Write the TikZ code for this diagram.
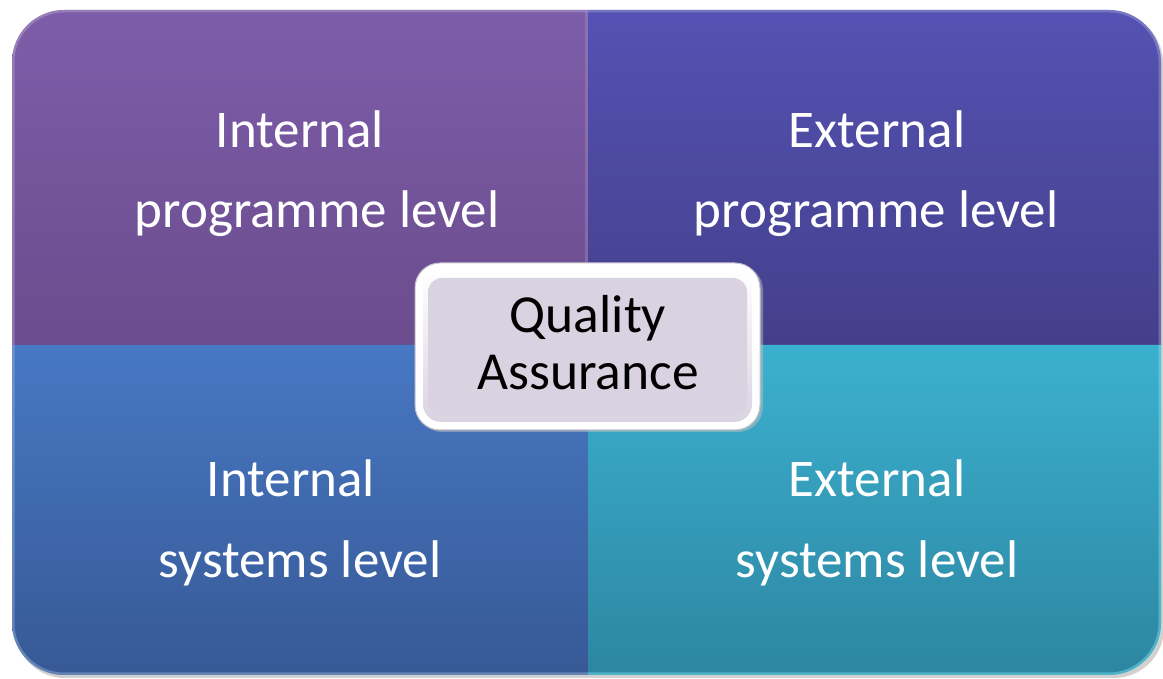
\documentclass[tikz,border=0pt]{standalone}
\usepackage{fontspec}
\setmainfont{Carlito}
\usetikzlibrary{shadings}
\definecolor{tlTop}{HTML}{7D5DA9}
\definecolor{tlBot}{HTML}{6B4C8D}
\definecolor{trTop}{HTML}{5452B3}
\definecolor{trBot}{HTML}{443F8B}
\definecolor{blTop}{HTML}{4778C3}
\definecolor{blBot}{HTML}{375996}
\definecolor{brTop}{HTML}{3BB1CF}
\definecolor{brBot}{HTML}{2D86A2}
\definecolor{qaFill}{HTML}{D9D3E1}
\definecolor{qaEdge}{HTML}{C4C0CC}
\tikzset{
  lbl/.style={anchor=base, text=white, font=\fontsize{53}{64}\selectfont, inner sep=0pt},
  qalbl/.style={anchor=base, text=black, font=\fontsize{53.5}{64}\selectfont, inner sep=0pt},
  rim/.style={line width=5pt, opacity=0.45},
}
\begin{document}
\begin{tikzpicture}[x=1pt,y=1pt]
\useasboundingbox (0,0) rectangle (1163,679);
\fill[white] (0,0) rectangle (1163,679);
% shadow
\fill[black!18] (15,331) -- (15,616) arc[start angle=180,end angle=90,radius=50] -- (1113,666) arc[start angle=90,end angle=0,radius=50] -- (1164,51) arc[start angle=0,end angle=-90,radius=50] -- (65,1) arc[start angle=270,end angle=180,radius=50] -- cycle;
% top-left
\shade[top color=tlTop,bottom color=tlBot] (12,334) -- (12,617) arc[start angle=180,end angle=90,radius=52] -- (588,669) -- (588,334) -- cycle;
\begin{scope}
\clip (12,334) -- (12,617) arc[start angle=180,end angle=90,radius=52] -- (588,669) -- (588,334) -- cycle;
\draw[rim, color=tlTop!55!white] (12,334) -- (12,617) arc[start angle=180,end angle=90,radius=52] -- (588,669);
\draw[line width=6pt, color=tlTop!70!white, opacity=0.4] (588,334) -- (588,669);
\end{scope}
% top-right
\shade[top color=trTop,bottom color=trBot] (588,669) -- (1109,669) arc[start angle=90,end angle=0,radius=52] -- (1161,334) -- (588,334) -- cycle;
\begin{scope}
\clip (588,669) -- (1109,669) arc[start angle=90,end angle=0,radius=52] -- (1161,334) -- (588,334) -- cycle;
\draw[rim, color=trTop!55!white] (588,669) -- (1109,669) arc[start angle=90,end angle=0,radius=52] -- (1161,334);
\end{scope}
% bottom-left
\shade[top color=blTop,bottom color=blBot] (12,334) -- (12,56) arc[start angle=180,end angle=270,radius=52] -- (588,4) -- (588,334) -- cycle;
\begin{scope}
\clip (12,334) -- (12,56) arc[start angle=180,end angle=270,radius=52] -- (588,4) -- (588,334) -- cycle;
\draw[rim, color=blTop!55!white] (12,334) -- (12,56) arc[start angle=180,end angle=270,radius=52] -- (588,4);
\end{scope}
% bottom-right
\shade[top color=brTop,bottom color=brBot] (588,334) -- (1161,334) -- (1161,56) arc[start angle=0,end angle=-90,radius=52] -- (588,4) -- cycle;
\begin{scope}
\clip (588,334) -- (1161,334) -- (1161,56) arc[start angle=0,end angle=-90,radius=52] -- (588,4) -- cycle;
\draw[rim, color=brTop!45!cyan!60!white] (1161,334) -- (1161,56) arc[start angle=0,end angle=-90,radius=52] -- (588,4);
\end{scope}
% labels
\node[lbl] (tl1) at (300,531) {Internal};
\node[lbl] (tl2) at (317,451) {programme level};
\node[lbl] (tr1) at (877,531) {External};
\node[lbl] (tr2) at (876,451) {programme level};
\node[lbl] (bl1) at (291,182) {Internal};
\node[lbl] (bl2) at (300,101) {systems level};
\node[lbl] (br1) at (877,182) {External};
\node[lbl] (br2) at (877,101) {systems level};
% center box
\fill[black!25, opacity=0.5, rounded corners=25pt] (417,247) rectangle (763,414);
\draw[qaEdge, fill=white, line width=1pt, rounded corners=25pt] (415,249) rectangle (760,416);
\shade[rounded corners=18pt, top color=white, bottom color=qaFill] (423,257) rectangle (752,408);
\fill[qaFill, rounded corners=14pt] (428,263) rectangle (747,401);
\node[qalbl] (q1) at (588,346) {Quality};
\node[qalbl] (q2) at (588,289) {Assurance};
\end{tikzpicture}
\end{document}
